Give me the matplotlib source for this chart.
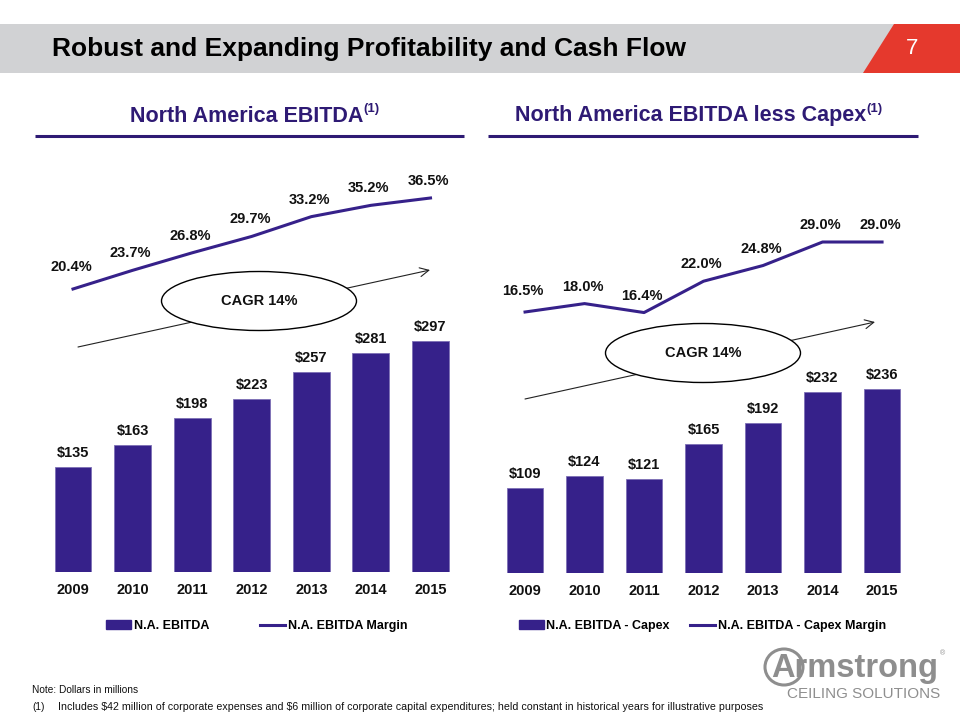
import numpy as np
import matplotlib
matplotlib.use('Agg')
import matplotlib.pyplot as plt
from matplotlib.patches import Rectangle, Polygon, Ellipse
from matplotlib.lines import Line2D

plt.rcParams['font.family'] = ['Liberation Sans', 'DejaVu Sans']

# data
years = ['2009', '2010', '2011', '2012', '2013', '2014', '2015']
ebitda = [135, 163, 198, 223, 257, 281, 297]
ebitda_margin = [20.4, 23.7, 26.8, 29.7, 33.2, 35.2, 36.5]
ebitda_less_capex = [109, 124, 121, 165, 192, 232, 236]
capex_margin = [16.5, 18.0, 16.4, 22.0, 24.8, 29.0, 29.0]

title = 'Robust and Expanding Profitability and Cash Flow'
page_no = '7'
left_title = 'North America EBITDA'
right_title = 'North America EBITDA less Capex'
left_legend = ['N.A. EBITDA', 'N.A. EBITDA Margin']
right_legend = ['N.A. EBITDA - Capex', 'N.A. EBITDA - Capex Margin']
cagr_text = 'CAGR 14%'
note1 = 'Note: Dollars in millions'
note2 = 'Includes $42 million of corporate expenses and $6 million of corporate capital expenditures; held constant in historical years for illustrative purposes'

W, H = 960, 720
PURPLE = '#36218a'
TXT = '#111111'

fig = plt.figure(figsize=(9.6, 7.2), dpi=100)


def px_rect(x0, x1, ytop, ybot):
    return [x0 / W, 1 - ybot / H, (x1 - x0) / W, (ybot - ytop) / H]


def panel(rect, values, margins, bar_top, m_lim, first_off):
    ax = fig.add_axes(rect)
    x = np.arange(len(years))
    ax.bar(x, values, width=0.62, color=PURPLE, edgecolor='#7d6fb5', linewidth=0.6)
    ax.set_xlim(-0.5, 6.5)
    ax.set_ylim(0, bar_top)
    for xi, v in zip(x, values):
        ax.annotate('$%d' % v, (xi, v), xytext=(0, 14), textcoords='offset pixels',
                    ha='center', va='center', fontsize=10.5, fontweight='bold', color=TXT)
    ax.set_xticks(x)
    ax.set_xticklabels(years, fontsize=10.5, fontweight='bold', color=TXT)
    ax.set_yticks([])
    ax.tick_params(length=0, pad=8)
    for s in ax.spines.values():
        s.set_visible(False)

    ax2 = ax.twinx()
    ax2.plot(x, margins, color=PURPLE, lw=2.2)
    ax2.set_ylim(*m_lim)
    ax2.axis('off')
    for i, (xi, m) in enumerate(zip(x, margins)):
        off = first_off if i == 0 else 17
        ax2.annotate('%.1f%%' % m, (xi, m), xytext=(-2, off), textcoords='offset pixels',
                     ha='center', va='center', fontsize=10.5, fontweight='bold', color=TXT)
    return ax


panel(px_rect(43.2, 460.3, 150, 572), ebitda, ebitda_margin, 542.4, (-29.67, 44.99), 22)
panel(px_rect(495.3, 911.8, 150, 573), ebitda_less_capex, capex_margin, 542.3, (-30.11, 45.43), 21)

# legends
for labels, anchor, colsp in [(left_legend, 106, 4.1), (right_legend, 519, 1.6)]:
    h1 = Rectangle((0, 0), 1, 1, color=PURPLE)
    h2 = Line2D([], [], color=PURPLE, lw=2.2)
    fig.legend([h1, h2], labels, loc='center left', bbox_to_anchor=(anchor / W, 1 - 626 / H),
               ncol=2, frameon=False, prop=dict(weight='bold', size=9),
               handlelength=2.0, handletextpad=0.2, columnspacing=colsp,
               borderpad=0, borderaxespad=0)

# overlay in pixel coordinates
ov = fig.add_axes([0, 0, 1, 1])
ov.set_xlim(0, W)
ov.set_ylim(H, 0)
ov.axis('off')

ov.add_patch(Rectangle((0, 24), 900, 49, color='#d1d2d4', lw=0))
ov.add_patch(Polygon([(894, 24), (960, 24), (960, 73), (863, 73)], closed=True, color='#e5392d', lw=0))
ov.text(52, 49, title, fontsize=19, fontweight='bold', color='black', va='center', ha='left')
ov.text(912, 48, page_no, fontsize=16, color='white', va='center', ha='center')

renderer = fig.canvas.get_renderer()
for txt, x0, l0, l1 in [(left_title, 130, 35, 464), (right_title, 515, 488, 918)]:
    t = ov.text(x0, 116, txt, fontsize=15.5, fontweight='bold', color='#2e1a74', va='center', ha='left')
    bb = t.get_window_extent(renderer=renderer)
    ov.text(bb.x1, 109, '(1)', fontsize=9.5, fontweight='bold', color='#2e1a74', va='center', ha='left')
    ov.plot([l0, l1], [136, 136], color='#2e1a74', lw=2.2, solid_capstyle='butt')

# CAGR ellipses and arrows
for (ax0, ay0, ax1, ay1), (ex, ey) in [((78, 347, 430, 270), (259, 301)),
                                        ((525, 399, 875, 322), (703, 353))]:
    ov.annotate('', xy=(ax1, ay1), xytext=(ax0, ay0),
                arrowprops=dict(arrowstyle='->', lw=0.8, color='#222222', mutation_scale=16,
                                shrinkA=0, shrinkB=0), zorder=2)
    ov.add_patch(Ellipse((ex, ey), 195, 59, facecolor='white', edgecolor='black', lw=1.0, zorder=3))
    ov.text(ex, ey, cagr_text, fontsize=10.5, fontweight='bold', color=TXT, ha='center', va='center', zorder=4)

# logo
LOGO = '#8e8e8e'
ov.add_patch(Ellipse((784, 667), 38, 36, facecolor='none', edgecolor=LOGO, lw=2.2))
ov.text(771, 668, 'Armstrong', fontsize=23.5, fontweight='bold', color=LOGO, ha='left', va='center')
ov.text(940, 654, '\u00ae', fontsize=5, color=LOGO, ha='left', va='center')
ov.text(940, 694, 'CEILING SOLUTIONS', fontsize=11, color=LOGO, ha='right', va='center')

# footnotes
ov.text(32, 690, note1, fontsize=7.3, color=TXT, ha='left', va='center')
ov.text(32, 707, '(1)', fontsize=7.3, color=TXT, ha='left', va='center')
ov.text(58, 707, note2, fontsize=7.7, color=TXT, ha='left', va='center', parse_math=False)

fig.savefig('out.png', dpi=100)
